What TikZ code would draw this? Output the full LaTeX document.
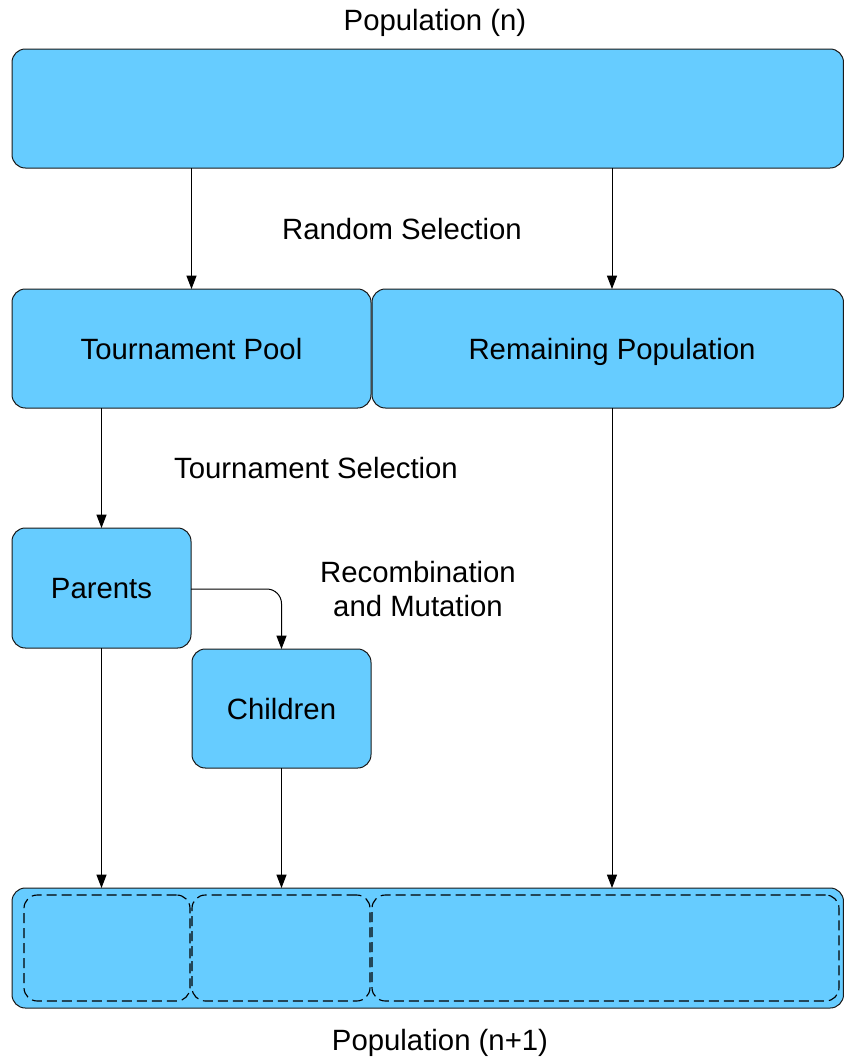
\documentclass[tikz,border=0pt]{standalone}
\usepackage{fontspec}
\setmainfont{Liberation Sans}
\usetikzlibrary{arrows.meta,calc}
\definecolor{boxfill}{HTML}{66CCFF}
\definecolor{boxline}{HTML}{1A1A1A}
\begin{document}
\begin{tikzpicture}[x=0.75pt,y=-0.75pt,
  box/.style={draw=boxline,fill=boxfill,line width=0.75pt,rounded corners=10pt,inner sep=0pt,outer sep=0pt,text depth=0pt,font=\fontsize{22}{26}\selectfont},
  dbox/.style={draw=black,line width=0.85pt,dash pattern=on 7.5pt off 3.75pt,rounded corners=10pt,inner sep=0pt,outer sep=0pt},
  arr/.style={draw=black,line width=0.75pt,-{Triangle[length=10pt,width=7.5pt]}},
  lbl/.style={font=\fontsize{22}{26}\selectfont,inner sep=0pt,align=center}]
\useasboundingbox (0,0) rectangle (844,1061);
% boxes
\node[box,minimum width=623.6pt,minimum height=89.25pt] (top) at (427.75,108.5) {};
\node[box,minimum width=269.25pt,minimum height=89.25pt] (tp) at (191.5,348.5) {Tournament Pool};
\node[box,minimum width=353.6pt,minimum height=89.25pt,
  label={[lbl,text depth=0pt,xshift=3.2pt]center:Remaining Population}] (rp) at (607.75,348.5) {};
\node[box,minimum width=134.25pt,minimum height=90pt] (par) at (101.5,588) {Parents};
\node[box,minimum width=134.25pt,minimum height=89.25pt] (ch) at (281.5,708.5) {Children};
\node[box,minimum width=623.6pt,minimum height=90pt] (bot) at (427.75,948) {};
\node[dbox,minimum width=124.5pt,minimum height=79.5pt] (d1) at (107,948) {};
\node[dbox,minimum width=133.5pt,minimum height=79.5pt] (d2) at (281,948) {};
\node[dbox,minimum width=350.25pt,minimum height=79.5pt] (d3) at (605.5,948) {};
% labels
\node[lbl] (lpop) at (435,23) {Population (n)};
\node[lbl] (lrand) at (402,229) {Random Selection};
\node[lbl] (ltour) at (316,468) {Tournament Selection};
\node[lbl] (lrec) at (418,589) {Recombination\\and Mutation};
\node[lbl] (lpop2) at (440,1043) {Population (n+1)};
% coordinates for the right column
\coordinate (rx) at ($(rp.north)+(4.25,0)$);
% connectors
\draw[arr] (top.south -| tp.north) -- (tp.north);
\draw[arr] (top.south -| rx) -- (rx);
\draw[arr] (tp.south -| par.north) -- (par.north);
\draw[arr,rounded corners=11pt] ($(par.east)+(0,1)$) -| (ch.north);
\draw[arr] (par.south) -- (bot.north -| par.south);
\draw[arr] (ch.south) -- (bot.north -| ch.south);
\draw[arr] (rp.south -| rx) -- (bot.north -| rx);
\end{tikzpicture}
\end{document}
